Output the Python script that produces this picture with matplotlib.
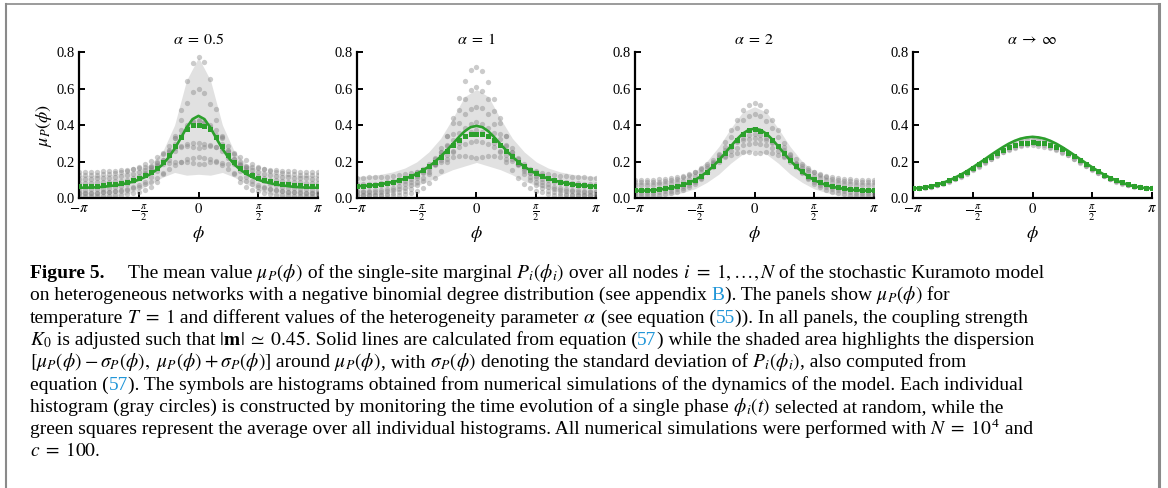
import re
import numpy as np
import matplotlib
matplotlib.use('Agg')
import matplotlib.pyplot as plt
from matplotlib.lines import Line2D

plt.rcParams['font.family'] = 'serif'
plt.rcParams['font.serif'] = ['Liberation Serif', 'DejaVu Serif']
plt.rcParams['mathtext.fontset'] = 'stix'

# -------------------------
# Data
# -------------------------
# 41 bins for lines / symbols, 21 points for the shaded band
titles = [r'$\alpha\;=\;0.5$', r'$\alpha\;=\;1$', r'$\alpha\;=\;2$', r'$\alpha\;\rightarrow\;\infty$']
ytick_vals = [0.0, 0.2, 0.4, 0.6, 0.8]
ytick_labels = ['0.0', '0.2', '0.4', '0.6', '0.8']
xtick_labels = [r'$-\pi$', r'$-\frac{\pi}{2}$', r'$0$', r'$\frac{\pi}{2}$', r'$\pi$']

# alpha = 0.5
theory1 = [0.056, 0.057, 0.057, 0.059, 0.061, 0.065, 0.069, 0.074, 0.081, 0.089, 0.100, 0.114, 0.132, 0.155, 0.184, 0.222, 0.270, 0.326, 0.385, 0.432, 0.450,
           0.432, 0.385, 0.326, 0.270, 0.222, 0.184, 0.155, 0.132, 0.114, 0.100, 0.089, 0.081, 0.074, 0.069, 0.065, 0.061, 0.059, 0.057, 0.057, 0.056]
squares1 = [0.066, 0.066, 0.067, 0.068, 0.071, 0.074, 0.078, 0.083, 0.090, 0.099, 0.110, 0.124, 0.142, 0.165, 0.195, 0.235, 0.285, 0.335, 0.380, 0.398, 0.400,
            0.396, 0.378, 0.333, 0.284, 0.236, 0.196, 0.166, 0.143, 0.125, 0.111, 0.100, 0.091, 0.084, 0.078, 0.074, 0.071, 0.069, 0.067, 0.066, 0.066]
band1_hi = [0.124, 0.124, 0.126, 0.131, 0.141, 0.155, 0.187, 0.254, 0.400, 0.645, 0.770, 0.645, 0.400, 0.254, 0.187, 0.155, 0.141, 0.131, 0.126, 0.124, 0.124]
band1_lo = [0.000, 0.000, 0.000, 0.007, 0.021, 0.045, 0.077, 0.114, 0.140, 0.125, 0.130, 0.125, 0.140, 0.114, 0.077, 0.045, 0.021, 0.007, 0.000, 0.000, 0.000]
gray1 = [
    [0.140, 0.141, 0.142, 0.144, 0.146, 0.148, 0.150, 0.152, 0.156, 0.160, 0.165, 0.170, 0.176, 0.180, 0.186, 0.190, 0.196, 0.200, 0.198, 0.190, 0.184,
     0.189, 0.199, 0.201, 0.194, 0.189, 0.184, 0.181, 0.174, 0.169, 0.164, 0.159, 0.155, 0.151, 0.149, 0.147, 0.146, 0.144, 0.142, 0.141, 0.140],
    [0.105, 0.106, 0.106, 0.108, 0.110, 0.112, 0.115, 0.120, 0.125, 0.130, 0.140, 0.155, 0.170, 0.190, 0.210, 0.235, 0.260, 0.280, 0.295, 0.300, 0.302,
     0.298, 0.293, 0.279, 0.258, 0.236, 0.212, 0.189, 0.171, 0.154, 0.141, 0.131, 0.124, 0.119, 0.116, 0.113, 0.110, 0.108, 0.107, 0.105, 0.104],
    [0.083, 0.083, 0.084, 0.085, 0.086, 0.088, 0.091, 0.095, 0.100, 0.108, 0.118, 0.132, 0.152, 0.178, 0.210, 0.250, 0.295, 0.345, 0.390, 0.420, 0.430,
     0.418, 0.388, 0.343, 0.296, 0.251, 0.211, 0.179, 0.153, 0.133, 0.119, 0.109, 0.101, 0.096, 0.092, 0.089, 0.087, 0.085, 0.084, 0.083, 0.082],
    [0.010, 0.010, 0.010, 0.011, 0.012, 0.013, 0.015, 0.018, 0.022, 0.028, 0.035, 0.045, 0.060, 0.085, 0.130, 0.210, 0.330, 0.480, 0.640, 0.740, 0.770,
     0.745, 0.650, 0.490, 0.340, 0.220, 0.135, 0.088, 0.062, 0.046, 0.036, 0.029, 0.023, 0.019, 0.016, 0.014, 0.012, 0.011, 0.011, 0.010, 0.010],
    [0.028, 0.028, 0.029, 0.030, 0.032, 0.034, 0.037, 0.041, 0.046, 0.053, 0.062, 0.075, 0.090, 0.110, 0.135, 0.160, 0.180, 0.200, 0.215, 0.220, 0.222,
     0.221, 0.214, 0.199, 0.181, 0.158, 0.134, 0.111, 0.091, 0.074, 0.063, 0.054, 0.047, 0.042, 0.038, 0.035, 0.033, 0.031, 0.030, 0.029, 0.029],
    [0.027, 0.027, 0.028, 0.029, 0.031, 0.034, 0.038, 0.043, 0.050, 0.060, 0.072, 0.090, 0.115, 0.150, 0.200, 0.260, 0.340, 0.430, 0.520, 0.580, 0.600,
     0.575, 0.515, 0.425, 0.335, 0.258, 0.198, 0.149, 0.116, 0.091, 0.073, 0.061, 0.051, 0.044, 0.039, 0.035, 0.032, 0.030, 0.028, 0.027, 0.027],
    [0.125, 0.126, 0.127, 0.128, 0.130, 0.133, 0.137, 0.142, 0.150, 0.160, 0.172, 0.188, 0.205, 0.225, 0.245, 0.262, 0.275, 0.283, 0.285, 0.280, 0.276,
     0.281, 0.286, 0.282, 0.274, 0.261, 0.244, 0.226, 0.206, 0.187, 0.171, 0.159, 0.149, 0.141, 0.136, 0.132, 0.129, 0.127, 0.126, 0.125, 0.125],
    [0.045, 0.046, 0.047, 0.049, 0.052, 0.056, 0.061, 0.068, 0.078, 0.092, 0.110, 0.135, 0.165, 0.200, 0.240, 0.285, 0.330, 0.370, 0.400, 0.415, 0.420,
     0.414, 0.398, 0.371, 0.331, 0.286, 0.241, 0.199, 0.164, 0.134, 0.111, 0.093, 0.079, 0.069, 0.062, 0.057, 0.053, 0.050, 0.048, 0.046, 0.045],
]

# alpha = 1
theory2 = [0.065, 0.066, 0.068, 0.071, 0.076, 0.081, 0.088, 0.096, 0.106, 0.118, 0.133, 0.151, 0.172, 0.197, 0.227, 0.260, 0.295, 0.332, 0.365, 0.388, 0.395,
           0.388, 0.365, 0.332, 0.295, 0.260, 0.227, 0.197, 0.172, 0.151, 0.133, 0.118, 0.106, 0.096, 0.088, 0.081, 0.076, 0.071, 0.068, 0.066, 0.065]
squares2 = [0.066, 0.067, 0.069, 0.072, 0.077, 0.082, 0.089, 0.097, 0.107, 0.119, 0.134, 0.152, 0.173, 0.198, 0.227, 0.258, 0.290, 0.318, 0.340, 0.350, 0.352,
            0.349, 0.338, 0.317, 0.291, 0.259, 0.228, 0.199, 0.174, 0.153, 0.135, 0.120, 0.108, 0.098, 0.090, 0.083, 0.077, 0.073, 0.069, 0.067, 0.066]
band2_hi = [0.118, 0.121, 0.130, 0.143, 0.164, 0.198, 0.252, 0.327, 0.435, 0.555, 0.595, 0.555, 0.435, 0.327, 0.252, 0.198, 0.164, 0.143, 0.130, 0.121, 0.118]
band2_lo = [0.012, 0.015, 0.022, 0.033, 0.048, 0.068, 0.092, 0.127, 0.155, 0.175, 0.195, 0.175, 0.155, 0.127, 0.092, 0.068, 0.048, 0.033, 0.022, 0.015, 0.012]
gray2 = [
    [0.112, 0.112, 0.113, 0.114, 0.115, 0.117, 0.120, 0.125, 0.130, 0.137, 0.145, 0.155, 0.170, 0.185, 0.200, 0.215, 0.225, 0.230, 0.231, 0.226, 0.220,
     0.224, 0.229, 0.231, 0.224, 0.214, 0.201, 0.186, 0.171, 0.156, 0.146, 0.138, 0.131, 0.126, 0.121, 0.118, 0.116, 0.114, 0.113, 0.112, 0.112],
    [0.067, 0.067, 0.068, 0.070, 0.072, 0.075, 0.080, 0.087, 0.095, 0.105, 0.120, 0.140, 0.160, 0.185, 0.210, 0.235, 0.260, 0.280, 0.295, 0.305, 0.310,
     0.306, 0.296, 0.281, 0.259, 0.236, 0.211, 0.184, 0.161, 0.139, 0.121, 0.106, 0.096, 0.088, 0.081, 0.076, 0.072, 0.070, 0.068, 0.067, 0.067],
    [0.031, 0.031, 0.032, 0.033, 0.035, 0.038, 0.042, 0.048, 0.057, 0.070, 0.088, 0.112, 0.145, 0.185, 0.235, 0.290, 0.350, 0.410, 0.460, 0.490, 0.500,
     0.492, 0.462, 0.408, 0.348, 0.291, 0.236, 0.186, 0.146, 0.113, 0.089, 0.071, 0.058, 0.049, 0.043, 0.039, 0.036, 0.034, 0.032, 0.031, 0.031],
    [0.014, 0.014, 0.015, 0.016, 0.018, 0.021, 0.025, 0.031, 0.040, 0.052, 0.070, 0.095, 0.130, 0.180, 0.250, 0.340, 0.440, 0.550, 0.640, 0.700, 0.720,
     0.695, 0.635, 0.545, 0.438, 0.342, 0.252, 0.182, 0.131, 0.096, 0.071, 0.053, 0.041, 0.032, 0.026, 0.022, 0.019, 0.017, 0.015, 0.014, 0.014],
    [0.076, 0.076, 0.077, 0.079, 0.082, 0.086, 0.092, 0.100, 0.110, 0.123, 0.140, 0.160, 0.185, 0.215, 0.250, 0.285, 0.320, 0.355, 0.385, 0.405, 0.415,
     0.404, 0.383, 0.354, 0.321, 0.286, 0.251, 0.216, 0.186, 0.161, 0.141, 0.124, 0.111, 0.101, 0.093, 0.087, 0.083, 0.080, 0.078, 0.077, 0.076],
    [0.016, 0.016, 0.016, 0.015, 0.015, 0.015, 0.016, 0.018, 0.022, 0.030, 0.040, 0.055, 0.080, 0.110, 0.150, 0.200, 0.250, 0.300, 0.340, 0.360, 0.370,
     0.362, 0.338, 0.302, 0.251, 0.199, 0.151, 0.111, 0.079, 0.056, 0.041, 0.031, 0.023, 0.019, 0.017, 0.016, 0.015, 0.015, 0.016, 0.016, 0.016],
    [0.040, 0.040, 0.041, 0.043, 0.046, 0.050, 0.056, 0.064, 0.075, 0.090, 0.110, 0.138, 0.175, 0.220, 0.275, 0.340, 0.410, 0.480, 0.545, 0.590, 0.610,
     0.588, 0.542, 0.478, 0.412, 0.338, 0.276, 0.221, 0.174, 0.137, 0.109, 0.089, 0.074, 0.063, 0.055, 0.049, 0.045, 0.042, 0.041, 0.040, 0.040],
]

# alpha = 2
theory3 = [0.040, 0.040, 0.041, 0.043, 0.046, 0.050, 0.055, 0.062, 0.071, 0.083, 0.098, 0.118, 0.142, 0.171, 0.205, 0.243, 0.282, 0.320, 0.352, 0.373, 0.380,
           0.373, 0.352, 0.320, 0.282, 0.243, 0.205, 0.171, 0.142, 0.118, 0.098, 0.083, 0.071, 0.062, 0.055, 0.050, 0.046, 0.043, 0.041, 0.040, 0.040]
squares3 = [0.043, 0.043, 0.044, 0.046, 0.049, 0.053, 0.058, 0.065, 0.074, 0.086, 0.101, 0.121, 0.145, 0.174, 0.208, 0.246, 0.284, 0.320, 0.350, 0.370, 0.376,
            0.369, 0.349, 0.319, 0.285, 0.247, 0.209, 0.175, 0.146, 0.122, 0.102, 0.087, 0.075, 0.066, 0.059, 0.054, 0.050, 0.047, 0.045, 0.044, 0.043]
band3_hi = [0.085, 0.085, 0.090, 0.100, 0.115, 0.145, 0.200, 0.280, 0.380, 0.470, 0.500, 0.470, 0.380, 0.280, 0.200, 0.145, 0.115, 0.100, 0.090, 0.085, 0.085]
band3_lo = [0.005, 0.005, 0.008, 0.015, 0.030, 0.050, 0.085, 0.130, 0.190, 0.240, 0.260, 0.240, 0.190, 0.130, 0.085, 0.050, 0.030, 0.015, 0.008, 0.005, 0.005]
gray3 = [
    [0.100, 0.100, 0.100, 0.101, 0.103, 0.106, 0.110, 0.115, 0.122, 0.130, 0.140, 0.157, 0.175, 0.195, 0.210, 0.225, 0.235, 0.245, 0.250, 0.250, 0.245,
     0.249, 0.251, 0.244, 0.236, 0.224, 0.211, 0.194, 0.176, 0.156, 0.141, 0.131, 0.121, 0.116, 0.111, 0.106, 0.103, 0.101, 0.100, 0.100, 0.100],
    [0.043, 0.043, 0.044, 0.045, 0.047, 0.050, 0.054, 0.060, 0.068, 0.080, 0.095, 0.115, 0.140, 0.170, 0.200, 0.230, 0.255, 0.275, 0.290, 0.298, 0.300,
     0.297, 0.289, 0.276, 0.256, 0.229, 0.199, 0.171, 0.141, 0.116, 0.096, 0.081, 0.069, 0.061, 0.055, 0.051, 0.048, 0.046, 0.044, 0.043, 0.043],
    [0.027, 0.027, 0.028, 0.030, 0.032, 0.036, 0.041, 0.048, 0.057, 0.070, 0.087, 0.110, 0.140, 0.178, 0.225, 0.280, 0.335, 0.385, 0.425, 0.450, 0.460,
     0.449, 0.424, 0.386, 0.336, 0.281, 0.226, 0.179, 0.141, 0.111, 0.088, 0.071, 0.058, 0.049, 0.042, 0.037, 0.033, 0.030, 0.028, 0.027, 0.027],
    [0.014, 0.014, 0.015, 0.016, 0.018, 0.022, 0.027, 0.034, 0.044, 0.058, 0.078, 0.105, 0.140, 0.185, 0.240, 0.305, 0.370, 0.430, 0.480, 0.510, 0.520,
     0.512, 0.478, 0.428, 0.372, 0.304, 0.241, 0.186, 0.139, 0.104, 0.077, 0.059, 0.045, 0.035, 0.028, 0.023, 0.019, 0.017, 0.015, 0.014, 0.014],
    [0.070, 0.070, 0.071, 0.072, 0.074, 0.077, 0.081, 0.087, 0.095, 0.106, 0.120, 0.140, 0.163, 0.190, 0.220, 0.250, 0.280, 0.310, 0.330, 0.345, 0.350,
     0.344, 0.331, 0.309, 0.281, 0.251, 0.219, 0.189, 0.164, 0.141, 0.121, 0.107, 0.096, 0.088, 0.082, 0.078, 0.075, 0.073, 0.071, 0.070, 0.070],
    [0.085, 0.085, 0.086, 0.088, 0.090, 0.093, 0.098, 0.105, 0.114, 0.126, 0.142, 0.162, 0.185, 0.210, 0.236, 0.262, 0.285, 0.305, 0.318, 0.326, 0.328,
     0.325, 0.317, 0.304, 0.286, 0.263, 0.237, 0.211, 0.186, 0.163, 0.143, 0.127, 0.115, 0.106, 0.099, 0.094, 0.091, 0.089, 0.087, 0.086, 0.085],
]

# alpha -> infinity
theory4 = [0.053, 0.054, 0.058, 0.064, 0.073, 0.083, 0.096, 0.111, 0.128, 0.147, 0.168, 0.190, 0.212, 0.235, 0.257, 0.278, 0.297, 0.313, 0.325, 0.332, 0.335,
           0.332, 0.325, 0.313, 0.297, 0.278, 0.257, 0.235, 0.212, 0.190, 0.168, 0.147, 0.128, 0.111, 0.096, 0.083, 0.073, 0.064, 0.058, 0.054, 0.053]
squares4 = [0.055, 0.056, 0.060, 0.066, 0.074, 0.084, 0.096, 0.110, 0.127, 0.145, 0.165, 0.185, 0.206, 0.227, 0.247, 0.265, 0.280, 0.292, 0.300, 0.304, 0.305,
            0.304, 0.301, 0.293, 0.281, 0.266, 0.248, 0.228, 0.207, 0.186, 0.166, 0.146, 0.128, 0.111, 0.097, 0.085, 0.075, 0.067, 0.061, 0.057, 0.055]
band4_hi = [0.057, 0.062, 0.078, 0.102, 0.135, 0.176, 0.221, 0.267, 0.307, 0.336, 0.345, 0.336, 0.307, 0.267, 0.221, 0.176, 0.135, 0.102, 0.078, 0.062, 0.057]
band4_lo = [0.049, 0.054, 0.068, 0.089, 0.120, 0.159, 0.202, 0.246, 0.286, 0.313, 0.322, 0.313, 0.286, 0.246, 0.202, 0.159, 0.120, 0.089, 0.068, 0.054, 0.049]
gray4 = [
    [0.056, 0.057, 0.060, 0.066, 0.073, 0.082, 0.094, 0.107, 0.123, 0.140, 0.158, 0.177, 0.197, 0.216, 0.234, 0.250, 0.264, 0.275, 0.283, 0.288, 0.290,
     0.287, 0.282, 0.274, 0.263, 0.249, 0.233, 0.215, 0.196, 0.176, 0.157, 0.139, 0.122, 0.106, 0.093, 0.081, 0.072, 0.065, 0.059, 0.056, 0.055],
    [0.054, 0.055, 0.058, 0.063, 0.070, 0.080, 0.091, 0.105, 0.121, 0.139, 0.159, 0.180, 0.202, 0.224, 0.245, 0.265, 0.283, 0.298, 0.310, 0.317, 0.320,
     0.318, 0.311, 0.299, 0.284, 0.266, 0.246, 0.225, 0.203, 0.181, 0.160, 0.140, 0.122, 0.106, 0.092, 0.081, 0.071, 0.064, 0.059, 0.056, 0.055],
    [0.053, 0.054, 0.057, 0.062, 0.069, 0.078, 0.089, 0.102, 0.117, 0.134, 0.152, 0.172, 0.192, 0.212, 0.232, 0.250, 0.267, 0.280, 0.290, 0.297, 0.300,
     0.298, 0.291, 0.281, 0.268, 0.251, 0.233, 0.213, 0.193, 0.173, 0.153, 0.135, 0.118, 0.103, 0.090, 0.079, 0.070, 0.063, 0.058, 0.055, 0.054],
]

panels = [
    (theory1, squares1, band1_lo, band1_hi, gray1),
    (theory2, squares2, band2_lo, band2_hi, gray2),
    (theory3, squares3, band3_lo, band3_hi, gray3),
    (theory4, squares4, band4_lo, band4_hi, gray4),
]

phi = np.linspace(-np.pi, np.pi, 41)
phi_band = np.linspace(-np.pi, np.pi, 21)
xticks = [-np.pi, -np.pi / 2, 0, np.pi / 2, np.pi]

GREEN = '#2ca02c'
BLUE = '#2196d8'

# -------------------------
# Figure
# -------------------------
W, H = 1168, 488
fig = plt.figure(figsize=(W / 100, H / 100), dpi=100)

lefts = [79, 357, 635, 913]
for i, (theory, squares, lo, hi, grays) in enumerate(panels):
    ax = fig.add_axes([lefts[i] / W, 1 - 198 / H, 239 / W, 146 / H])
    ax.fill_between(phi_band, lo, hi, color='#e1e1e1', lw=0, zorder=1)
    for g in grays:
        ax.plot(phi, g, 'o', ms=3.8, color='#858585', alpha=0.42, mew=0, zorder=2)
    ax.plot(phi, theory, '-', color=GREEN, lw=1.9, zorder=3)
    ax.plot(phi, squares, 's', color=GREEN, ms=3.6, mew=0, zorder=4)

    ax.set_xlim(-np.pi, np.pi)
    ax.set_ylim(0, 0.8)
    ax.set_xticks(xticks)
    ax.set_xticklabels(xtick_labels)
    ax.set_yticks(ytick_vals)
    ax.set_yticklabels(ytick_labels)
    for s in ['top', 'right']:
        ax.spines[s].set_visible(False)
    for s in ['left', 'bottom']:
        ax.spines[s].set_linewidth(1.6)
    ax.tick_params(direction='in', length=4, width=1.4, labelsize=10.5, pad=3)
    ax.set_title(titles[i], fontsize=11.5, pad=6)
    ax.set_xlabel(r'$\phi$', fontsize=13, labelpad=1)
    if i == 0:
        ax.set_ylabel(r'$\mu_P(\phi)$', fontsize=13, labelpad=2)

# page frame
fig.add_artist(Line2D([6 / W, 6 / W], [0, 1 - 4 / H], transform=fig.transFigure, color='#8a8a8a', lw=1.5))
fig.add_artist(Line2D([6 / W, 1159 / W], [1 - 4 / H, 1 - 4 / H], transform=fig.transFigure, color='#8a8a8a', lw=1.2))
fig.add_artist(Line2D([1159 / W, 1159 / W], [0, 1 - 4 / H], transform=fig.transFigure, color='#8a8a8a', lw=2.2))

# -------------------------
# Caption
# -------------------------
caption = [
    [('Figure 5.', 'bold'), (128, 'goto'),
     (r'The mean value $\mu_P(\phi)$ of the single-site marginal $P_i(\phi_i)$ over all nodes $i\;=\;1,\ldots,N$ of the stochastic Kuramoto model', 'k')],
    [('on heterogeneous networks with a negative binomial degree distribution (see appendix', 'k'),
     (' B', 'blue'), (r'). The panels show $\mu_P(\phi)$ for', 'k')],
    [(r'temperature $T\;=\;1$ and different values of the heterogeneity parameter $\alpha$ (see equation (', 'k'),
     ('55', 'blue'), (')). In all panels, the coupling strength', 'k')],
    [(r'$K_0$ is adjusted such that $|\mathbf{m}|\;\simeq\;0.45$. Solid lines are calculated from equation (', 'k'),
     ('57', 'blue'), (') while the shaded area highlights the dispersion', 'k')],
    [(r'$[\mu_P(\phi)-\sigma_P(\phi),\ \mu_P(\phi)+\sigma_P(\phi)]$ around $\mu_P(\phi)$, with $\sigma_P(\phi)$ denoting the standard deviation of $P_i(\phi_i)$, also computed from', 'k')],
    [('equation (', 'k'), ('57', 'blue'),
     ('). The symbols are histograms obtained from numerical simulations of the dynamics of the model. Each individual', 'k')],
    [(r'histogram (gray circles) is constructed by monitoring the time evolution of a single phase $\phi_i(t)$ selected at random, while the', 'k')],
    [(r'green squares represent the average over all individual histograms. All numerical simulations were performed with $N\;=\;10$', 'k'),
     ('4', 'sup'), (' and', 'k')],
    [(r'$c\;=\;100.$', 'k')],
]


def split_math(txt):
    # cut a line into plain / math pieces, moving trailing blanks to the next piece
    out, carry = [], ''
    for p in re.split(r'(\$[^$]*\$)', txt):
        if not p:
            continue
        p = carry + p
        body = p.rstrip(' ')
        carry = p[len(body):]
        if body:
            out.append(body)
    return out


CAP_FS = 14.0
renderer = fig.canvas.get_renderer()
baseline = 278.0
for line in caption:
    x = 30.0
    for txt, style in line:
        if style == 'goto':
            x = txt
            continue
        if style == 'sup':
            t = fig.text(x / W, 1 - (baseline - 7.5) / H, txt, fontsize=CAP_FS * 0.68,
                         ha='left', va='baseline')
            x += t.get_window_extent(renderer).width + 1
            continue
        for piece in split_math(txt):
            t = fig.text(x / W, 1 - baseline / H, piece, fontsize=CAP_FS, ha='left', va='baseline',
                         color=BLUE if style == 'blue' else 'black',
                         weight='bold' if style == 'bold' else 'normal')
            w = t.get_window_extent(renderer).width
            if piece.endswith('N$'):
                w -= 3  # italic N box is wider than its advance
            x += w
    baseline += 22.3

fig.savefig('out.png', dpi=100)
